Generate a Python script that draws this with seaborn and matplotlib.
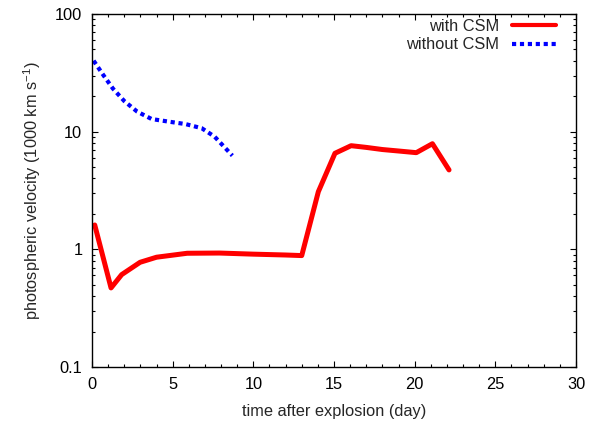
import matplotlib
matplotlib.use("Agg")
import matplotlib.pyplot as plt
import matplotlib.ticker as mticker
import numpy as np
import pandas as pd
import seaborn as sns

# Photospheric velocity (1000 km/s) vs. time since explosion (days)
t_csm = [0.17, 1.18, 1.84, 2.98, 4.0, 5.9, 7.9, 10.0, 12.0, 13.0,
         14.03, 15.06, 16.06, 17.0, 18.0, 19.0, 20.1, 21.1, 22.13]
v_csm = [1.61, 0.47, 0.61, 0.776, 0.857, 0.926, 0.93, 0.91, 0.895, 0.885,
         3.09, 6.55, 7.6, 7.35, 7.05, 6.85, 6.63, 7.9, 4.73]

t_nocsm = [0.1, 0.7, 1.3, 2.0, 2.8, 3.7, 4.7, 5.8, 6.8, 7.6, 8.7]
v_nocsm = [40.1, 30.3, 23.2, 18.2, 14.8, 12.8, 12.2, 11.6, 10.7, 9.07, 6.26]

x_ticks = [0, 5, 10, 15, 20, 25, 30]
y_ticks = [0.1, 1, 10, 100]

sns.set_style("ticks")
plt.rcParams["font.family"] = ["Liberation Sans", "DejaVu Sans"]
plt.rcParams["mathtext.fontset"] = "custom"
plt.rcParams["mathtext.rm"] = "Liberation Sans"
plt.rcParams["mathtext.it"] = "Liberation Sans"

FS = 11.8

df_csm = pd.DataFrame({"t": t_csm, "v": v_csm})
df_nocsm = pd.DataFrame({"t": t_nocsm, "v": v_nocsm})

fig = plt.figure(figsize=(5.97, 4.22), dpi=100)
ax = fig.add_axes([92 / 597, 1 - 367 / 422, (576 - 92) / 597, (367 - 14) / 422])

sns.lineplot(data=df_csm, x="t", y="v", ax=ax, color="#ff0000", lw=3.6,
             label="with CSM", sort=False, estimator=None)
sns.lineplot(data=df_nocsm, x="t", y="v", ax=ax, color="#0000ff", lw=3.0,
             label="without CSM", sort=False, estimator=None)
ax.lines[1].set_dashes([1.0, 0.9])
ax.lines[1].set_dash_capstyle("butt")

ax.set_yscale("log")
ax.set_xlim(0, 30)
ax.set_ylim(0.1, 100)
ax.set_xticks(x_ticks)
ax.xaxis.set_minor_locator(mticker.MultipleLocator(1))
ax.set_yticks(y_ticks)
ax.yaxis.set_major_formatter(mticker.FuncFormatter(lambda v, p: "%g" % v))
ax.yaxis.set_minor_locator(mticker.LogLocator(base=10, subs=np.arange(2, 10)))
ax.yaxis.set_minor_formatter(mticker.NullFormatter())

ax.tick_params(which="both", direction="in", top=True, right=True,
               labelsize=FS, colors="black", width=0.8)
ax.tick_params(axis="y", pad=7)
ax.tick_params(axis="x", pad=7)
ax.tick_params(which="major", length=4.5)
ax.tick_params(which="minor", length=2.2)
for s in ax.spines.values():
    s.set_color("black")
    s.set_linewidth(1.0)

ax.set_xlabel("time after explosion (day)", fontsize=FS, labelpad=9)
ax.set_ylabel("photospheric velocity (1000 km s$^{\\mathregular{-1}}$)",
              fontsize=FS, labelpad=9)

leg = ax.legend(loc="upper right",
                bbox_to_anchor=((556 - 92) / 484, (367 - 19) / 353),
                frameon=False, markerfirst=False, fontsize=FS,
                handlelength=2.7, handletextpad=0.75, labelspacing=0.2,
                borderpad=0, borderaxespad=0)
leg.get_lines()[0].set_linewidth(3.0)

fig.savefig("out.png", dpi=100)
